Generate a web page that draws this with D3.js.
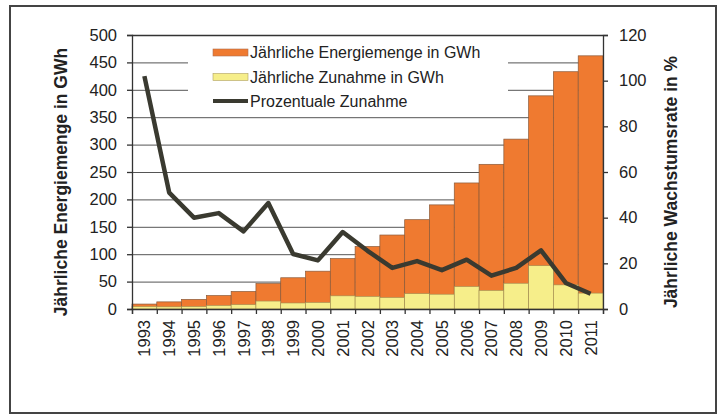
<!DOCTYPE html>
<html><head><meta charset="utf-8">
<script src="https://cdn.jsdelivr.net/npm/d3@7"></script>
<style>
html,body{margin:0;padding:0;background:#fff;}
svg{display:block;font-family:"Liberation Sans",Arial,sans-serif;}
</style></head>
<body>
<svg id="chart" width="721" height="414"></svg>
<script>
const years = ["1993","1994","1995","1996","1997","1998","1999","2000","2001","2002","2003","2004","2005","2006","2007","2008","2009","2010","2011"];
const energy = [9, 13, 17.5, 24.5, 32, 46.5, 57, 69, 92, 114, 135, 163, 190, 230, 264, 310, 389, 433, 462];
const increase = [4.5, 4, 4.5, 6.5, 8, 14.5, 11, 12, 24, 23, 21, 28, 27, 41, 34, 47, 79, 44, 29];
const growth = [102, 51, 40, 42, 34, 46.4, 24.1, 21.3, 33.7, 25.5, 18, 21, 17, 21.6, 14.6, 18, 25.7, 11.4, 6.7];
const leftTicks = [0,50,100,150,200,250,300,350,400,450,500];
const rightTicks = [0,20,40,60,80,100,120];
const legendLabels = ["Jährliche Energiemenge in GWh","Jährliche Zunahme in GWh","Prozentuale Zunahme"];
const leftTitle = "Jährliche Energiemenge in GWh";
const rightTitle = "Jährliche Wachstumsrate in %";

const svg = d3.select("#chart");
const L = 132, R = 603, T = 35, B = 309;
const x = d3.scaleBand().domain(years).range([L, R]).padding(0);
const yL = d3.scaleLinear().domain([0, 500]).range([B, T]);
const yR = d3.scaleLinear().domain([0, 120]).range([B, T]);

const orange = "#EF7A30", yellow = "#F6EE8A", lineCol = "#3a3a30";

// frame
svg.append("rect").attr("x",10).attr("y",6).attr("width",706).attr("height",407)
  .attr("fill","none").attr("stroke","#444").attr("stroke-width",2);

// gridlines
svg.append("g").selectAll("line").data(leftTicks.filter(d=>d>0 && d<500)).join("line")
  .attr("x1",L).attr("x2",R).attr("y1",d=>yL(d)+0.5).attr("y2",d=>yL(d)+0.5)
  .attr("stroke","#555").attr("stroke-width",1);

// legend background
const lg = svg.append("g");
lg.append("rect").attr("x",188).attr("y",37).attr("width",320).attr("height",75).attr("fill","#fff");

// bars
svg.append("g").selectAll("rect").data(years).join("rect")
  .attr("x",d=>x(d)).attr("width",x.bandwidth())
  .attr("y",(d,i)=>yL(energy[i])).attr("height",(d,i)=>B-yL(energy[i]))
  .attr("fill",orange).attr("stroke","#8a5a3a").attr("stroke-width",0.7);
svg.append("g").selectAll("rect").data(years).join("rect")
  .attr("x",d=>x(d)).attr("width",x.bandwidth())
  .attr("y",(d,i)=>yL(increase[i])).attr("height",(d,i)=>B-yL(increase[i]))
  .attr("fill",yellow).attr("stroke","#a08a50").attr("stroke-width",0.6);

// line
const line = d3.line().x((d,i)=>x(years[i])+x.bandwidth()/2).y(d=>yR(d));
svg.append("path").datum(growth).attr("d",line).attr("fill","none")
  .attr("stroke",lineCol).attr("stroke-width",4.5).attr("stroke-linejoin","round");

// top border
svg.append("line").attr("x1",L).attr("x2",R).attr("y1",T+0.5).attr("y2",T+0.5).attr("stroke","#333").attr("stroke-width",1.3);

// left axis
const gl = svg.append("g").attr("transform",`translate(${L},0)`)
  .call(d3.axisLeft(yL).tickValues(leftTicks).tickSize(5).tickPadding(10));
// right axis
const gr = svg.append("g").attr("transform",`translate(${R},0)`)
  .call(d3.axisRight(yR).tickValues(rightTicks).tickSize(5).tickPadding(11));
// bottom axis: ticks at band boundaries
const bx = d3.scaleLinear().domain([0, years.length]).range([L, R]);
const gb = svg.append("g").attr("transform",`translate(0,${B})`)
  .call(d3.axisBottom(bx).ticks(years.length).tickValues(d3.range(years.length+1)).tickSize(5).tickFormat(""));
[gl,gr,gb].forEach(g=>{
  g.select(".domain").attr("stroke","#333").attr("stroke-width",1.3);
  g.selectAll(".tick line").attr("stroke","#333").attr("stroke-width",1.3);
  g.selectAll("text").attr("font-size",16.5).attr("fill","#222").attr("font-family","Liberation Sans, Arial, sans-serif");
});

// x labels rotated
svg.append("g").selectAll("text").data(years).join("text")
  .attr("transform",d=>`translate(${x(d)+x.bandwidth()/2+6},320) rotate(-90)`)
  .attr("text-anchor","end").attr("font-size",16.5).attr("fill","#222").text(d=>d);

// titles
svg.append("text").attr("transform","translate(67,182) rotate(-90)").attr("text-anchor","middle")
  .attr("font-size",17.5).attr("font-weight","bold").attr("fill","#222").text(leftTitle);
svg.append("text").attr("transform","translate(677,182) rotate(-90)").attr("text-anchor","middle")
  .attr("font-size",17.5).attr("font-weight","bold").attr("fill","#222").text(rightTitle);

// legend items
const rows = [52.5, 77, 101];
lg.append("rect").attr("x",213).attr("y",rows[0]-3.5).attr("width",35).attr("height",7).attr("fill",orange).attr("stroke","#b07050").attr("stroke-width",0.6);
lg.append("rect").attr("x",213).attr("y",rows[1]-3.5).attr("width",35).attr("height",7).attr("fill",yellow).attr("stroke","#b0a060").attr("stroke-width",0.6);
lg.append("line").attr("x1",213).attr("x2",248).attr("y1",rows[2]).attr("y2",rows[2]).attr("stroke",lineCol).attr("stroke-width",4);
lg.selectAll("text").data(legendLabels).join("text")
  .attr("x",250).attr("y",(d,i)=>rows[i]+5.8).attr("font-size",16).attr("fill","#222").text(d=>d);
</script>
</body></html>
